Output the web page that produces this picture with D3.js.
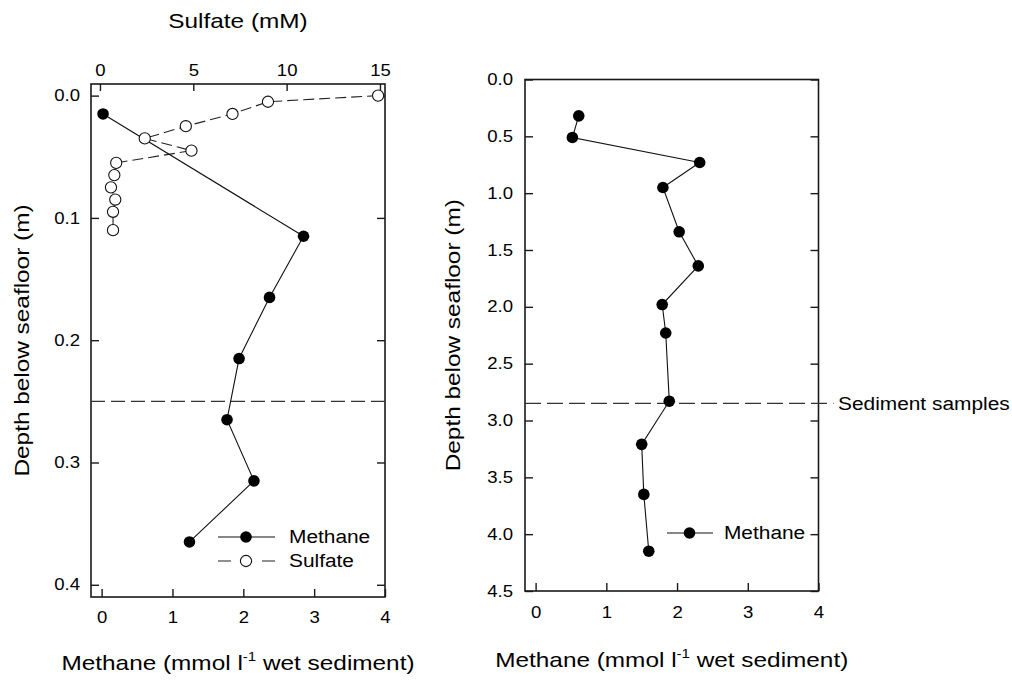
<!DOCTYPE html>
<html>
<head>
<meta charset="UTF-8">
<title>Methane and sulfate depth profiles</title>
<script src="https://cdnjs.cloudflare.com/ajax/libs/d3/7.8.5/d3.min.js"></script>
<style>
  body { margin: 0; background: #fff; }
  svg text { font-family: "Liberation Sans", Arial, sans-serif; fill: #000; }
</style>
</head>
<body>
<svg id="chart" width="1012" height="682"></svg>
<script>
// left core: methane (bottom axis) and sulfate (top axis) against depth
var leftMethaneDepth = [0.015, 0.115, 0.165, 0.215, 0.265, 0.315, 0.365];
var leftMethane = [0.02, 2.85, 2.37, 1.94, 1.77, 2.15, 1.24];
var sulfateDepth = [0.0, 0.005, 0.015, 0.025, 0.035, 0.045, 0.055, 0.065, 0.075, 0.085, 0.095, 0.11];
var sulfate = [14.9, 9.0, 7.1, 4.6, 2.4, 4.9, 0.87, 0.77, 0.59, 0.82, 0.70, 0.70];

// right core: methane against depth
var rightDepth = [0.32, 0.51, 0.73, 0.95, 1.34, 1.64, 1.98, 2.23, 2.83, 3.21, 3.65, 4.15];
var rightMethane = [0.61, 0.52, 2.32, 1.80, 2.03, 2.30, 1.79, 1.84, 1.89, 1.50, 1.53, 1.60];

// depth of the sediment samples (dashed lines)
var sampleDepthLeft = 0.25;
var sampleDepthRight = 2.85;

// ticks
var methaneTicks = [0, 1, 2, 3, 4];
var sulfateTicks = [0, 5, 10, 15];
var leftDepthTicks = [0, 0.1, 0.2, 0.3, 0.4];
var rightDepthTicks = [0, 0.5, 1, 1.5, 2, 2.5, 3, 3.5, 4, 4.5];

var stretch = 1.16;   // the reference type is wider than Arial
var ink = "#1a1a1a";

var svg = d3.select("#chart");

function zip(xs, ys) {
  return xs.map(function (v, i) { return { v: v, d: ys[i] }; });
}

function widen(sel) {
  sel.each(function () {
    var t = d3.select(this);
    var x = t.attr("x");
    if (x !== null) t.attr("x", +x / stretch);
    t.attr("transform", "scale(" + stretch + ",1)");
  });
}

function label(x, y, txt, size, rot) {
  var t = svg.append("text")
    .attr("transform", "translate(" + x + "," + y + ") rotate(" + (rot || 0) + ") scale(" + stretch + ",1)")
    .attr("text-anchor", "middle")
    .attr("font-size", size);
  if (txt) t.text(txt);
  return t;
}

function axis(gen, tx, ty, size, noText) {
  var g = svg.append("g")
    .attr("transform", "translate(" + tx + "," + ty + ")")
    .call(gen);
  g.select(".domain").remove();
  g.attr("font-size", size).attr("font-family", "Liberation Sans, Arial, sans-serif");
  g.selectAll("line").attr("stroke", ink).attr("stroke-width", 1.4);
  if (noText) g.selectAll("text").remove();
  else widen(g.selectAll("text").attr("fill", "#000"));
  return g;
}

function methaneLabel(cx, y) {
  var t = label(cx, y, null, 21);
  t.append("tspan").text("Methane (mmol l");
  t.append("tspan").attr("font-size", 13).attr("dy", -9).text("-1");
  t.append("tspan").attr("dy", 9).text(" wet sediment)");
}

var fmtInt = d3.format("d");
var fmtDepth = d3.format(".1f");

// ---------- left panel ----------
var L = { x: 91, y: 84, w: 294, h: 513 };
var xM = d3.scaleLinear().domain([-0.15, 4.0]).range([L.x, L.x + L.w]);
var xS = d3.scaleLinear().domain([-0.48, 15.27]).range([L.x, L.x + L.w]);
var yL = d3.scaleLinear().domain([-0.0095, 0.41]).range([L.y, L.y + L.h]);

axis(d3.axisLeft(yL).tickValues(leftDepthTicks).tickSizeInner(-8).tickSizeOuter(0)
  .tickPadding(11).tickFormat(fmtDepth), L.x, 0, 16);
axis(d3.axisRight(yL).tickValues(leftDepthTicks).tickSizeInner(-8).tickSizeOuter(0),
  L.x + L.w, 0, 16, true);
axis(d3.axisBottom(xM).tickValues(methaneTicks).tickSizeInner(-8).tickSizeOuter(0)
  .tickPadding(15).tickFormat(fmtInt), 0, L.y + L.h, 16);
axis(d3.axisTop(xS).tickValues(sulfateTicks).tickSizeInner(-7).tickSizeOuter(0)
  .tickPadding(8).tickFormat(fmtInt), 0, L.y, 16);

svg.append("rect").attr("x", L.x).attr("y", L.y).attr("width", L.w).attr("height", L.h)
  .attr("fill", "none").attr("stroke", ink).attr("stroke-width", 1.6);

svg.append("line")
  .attr("x1", L.x).attr("x2", L.x + L.w)
  .attr("y1", yL(sampleDepthLeft)).attr("y2", yL(sampleDepthLeft))
  .attr("stroke", "#333").attr("stroke-width", 1.2).attr("stroke-dasharray", "14,6");

var sulfatePts = zip(sulfate, sulfateDepth);
svg.append("path").datum(sulfatePts)
  .attr("d", d3.line().x(function (p) { return xS(p.v); }).y(function (p) { return yL(p.d); }))
  .attr("fill", "none").attr("stroke", "#222").attr("stroke-width", 1.1)
  .attr("stroke-dasharray", "11,5");

var leftPts = zip(leftMethane, leftMethaneDepth);
svg.append("path").datum(leftPts)
  .attr("d", d3.line().x(function (p) { return xM(p.v); }).y(function (p) { return yL(p.d); }))
  .attr("fill", "none").attr("stroke", "#111").attr("stroke-width", 1.1);

svg.selectAll("circle.sulf").data(sulfatePts).enter().append("circle")
  .attr("class", "sulf")
  .attr("cx", function (p) { return xS(p.v); })
  .attr("cy", function (p) { return yL(p.d); })
  .attr("r", 5.6).attr("fill", "#fff").attr("stroke", "#111").attr("stroke-width", 1.1);

svg.selectAll("circle.methL").data(leftPts).enter().append("circle")
  .attr("class", "methL")
  .attr("cx", function (p) { return xM(p.v); })
  .attr("cy", function (p) { return yL(p.d); })
  .attr("r", 5.8).attr("fill", "#000");

// left legend
var lg = svg.append("g").attr("transform", "translate(218,537)");
lg.append("line").attr("x1", 0).attr("x2", 57).attr("stroke", "#111").attr("stroke-width", 1.1);
lg.append("circle").attr("cx", 28).attr("r", 5.8).attr("fill", "#000");
lg.append("line").attr("x1", 0).attr("x2", 57).attr("y1", 24).attr("y2", 24)
  .attr("stroke", "#222").attr("stroke-width", 1.1).attr("stroke-dasharray", "13,31");
lg.append("circle").attr("cx", 28).attr("cy", 24).attr("r", 5.6)
  .attr("fill", "#fff").attr("stroke", "#111").attr("stroke-width", 1.1);
lg.append("text").attr("x", 71 / stretch).attr("y", 6).attr("font-size", 18)
  .attr("transform", "scale(" + stretch + ",1)").text("Methane");
lg.append("text").attr("x", 71 / stretch).attr("y", 30).attr("font-size", 18)
  .attr("transform", "scale(" + stretch + ",1)").text("Sulfate");

label(L.x + L.w / 2, 28, "Sulfate (mM)", 21);
methaneLabel(L.x + L.w / 2, 670);
label(29, L.y + L.h / 2, "Depth below seafloor (m)", 21, -90);

// ---------- right panel ----------
var R = { x: 525, y: 79.5, w: 293.5, h: 511.5 };
var xR = d3.scaleLinear().domain([-0.15, 4.0]).range([R.x, R.x + R.w]);
var yR = d3.scaleLinear().domain([0, 4.5]).range([R.y, R.y + R.h]);

axis(d3.axisLeft(yR).tickValues(rightDepthTicks).tickSizeInner(-8).tickSizeOuter(0)
  .tickPadding(12).tickFormat(fmtDepth), R.x, 0, 16);
axis(d3.axisRight(yR).tickValues(rightDepthTicks).tickSizeInner(-8).tickSizeOuter(0),
  R.x + R.w, 0, 16, true);
axis(d3.axisBottom(xR).tickValues(methaneTicks).tickSizeInner(-8).tickSizeOuter(0)
  .tickPadding(16).tickFormat(fmtInt), 0, R.y + R.h, 16);

svg.append("rect").attr("x", R.x).attr("y", R.y).attr("width", R.w).attr("height", R.h)
  .attr("fill", "none").attr("stroke", ink).attr("stroke-width", 1.6);

svg.append("line")
  .attr("x1", R.x).attr("x2", R.x + R.w + 15)
  .attr("y1", yR(sampleDepthRight)).attr("y2", yR(sampleDepthRight))
  .attr("stroke", "#333").attr("stroke-width", 1.2).attr("stroke-dasharray", "16,6");

var rightPts = zip(rightMethane, rightDepth);
svg.append("path").datum(rightPts)
  .attr("d", d3.line().x(function (p) { return xR(p.v); }).y(function (p) { return yR(p.d); }))
  .attr("fill", "none").attr("stroke", "#111").attr("stroke-width", 1.1);

svg.selectAll("circle.methR").data(rightPts).enter().append("circle")
  .attr("class", "methR")
  .attr("cx", function (p) { return xR(p.v); })
  .attr("cy", function (p) { return yR(p.d); })
  .attr("r", 5.8).attr("fill", "#000");

// right legend
var rg = svg.append("g").attr("transform", "translate(667,533)");
rg.append("line").attr("x1", 0).attr("x2", 46).attr("stroke", "#111").attr("stroke-width", 1.1);
rg.append("circle").attr("cx", 22.5).attr("r", 5.8).attr("fill", "#000");
rg.append("text").attr("x", 57 / stretch).attr("y", 6).attr("font-size", 18)
  .attr("transform", "scale(" + stretch + ",1)").text("Methane");

svg.append("text")
  .attr("transform", "translate(838," + (yR(sampleDepthRight) + 6.5) + ") scale(" + stretch + ",1)")
  .attr("font-size", 18).text("Sediment samples");

methaneLabel(R.x + R.w / 2, 667);
label(460, R.y + R.h / 2, "Depth below seafloor (m)", 21, -90);
</script>
</body>
</html>
